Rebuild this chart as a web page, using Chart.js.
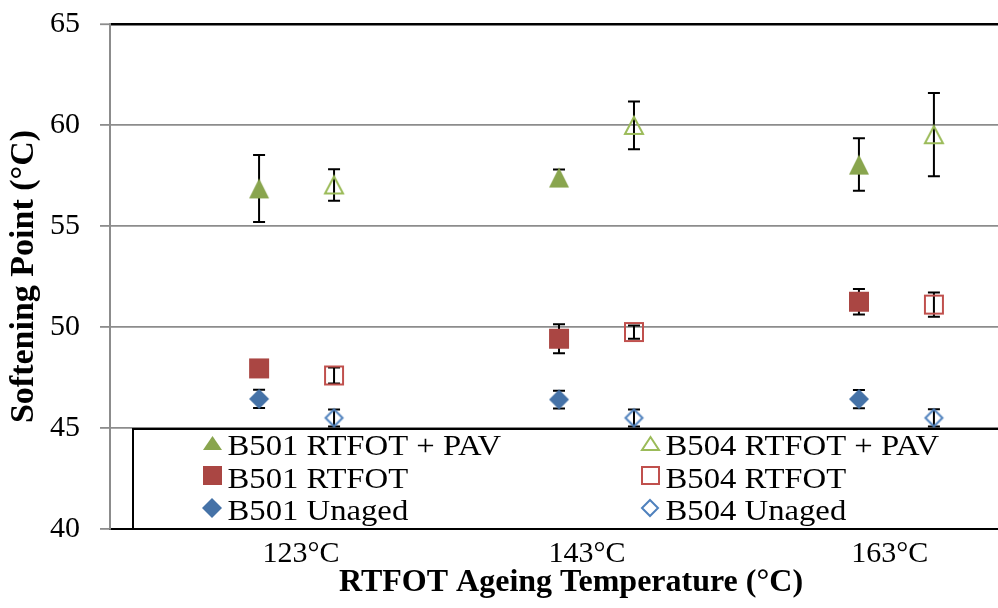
<!DOCTYPE html>
<html>
<head>
<meta charset="utf-8">
<title>Softening Point vs RTFOT Ageing Temperature</title>
<script src="https://cdn.jsdelivr.net/npm/chart.js"></script>
<style>
  html, body { margin: 0; padding: 0; background: #fff; overflow: hidden; }
  /* the figure is cropped on the right, like the original */
  #wrap { width: 998px; height: 608px; overflow: hidden; position: relative; }
  #softening-chart { position: absolute; left: 0; top: 0; }
</style>
</head>
<body>
<div id="wrap"><canvas id="softening-chart" width="1032" height="608"></canvas></div>
<script>
// Chart data
var categories = ['123°C', '143°C', '163°C'];
var yTicks = [40, 45, 50, 55, 60, 65];

var b501PavLabel = 'B501 RTFOT + PAV';
var b501Pav = [56.86, 57.4, 58.04];
var b501PavErr = [1.66, 0.4, 1.3];

var b504PavLabel = 'B504 RTFOT + PAV';
var b504Pav = [57.03, 59.98, 59.52];
var b504PavErr = [0.78, 1.18, 2.06];

var b501RtfotLabel = 'B501 RTFOT';
var b501Rtfot = [47.95, 49.42, 51.25];
var b501RtfotErr = [0.3, 0.72, 0.63];

var b504RtfotLabel = 'B504 RTFOT';
var b504Rtfot = [47.6, 49.75, 51.11];
var b504RtfotErr = [0.4, 0.33, 0.6];

var b501UnagedLabel = 'B501 Unaged';
var b501Unaged = [46.44, 46.41, 46.43];
var b501UnagedErr = [0.45, 0.44, 0.45];

var b504UnagedLabel = 'B504 Unaged';
var b504Unaged = [45.5, 45.5, 45.5];
var b504UnagedErr = [0.42, 0.42, 0.43];

var FONT = "'Liberation Serif', 'Times New Roman', serif";
Chart.defaults.font.family = FONT;
Chart.defaults.color = '#000';

// marker images (excel style), centred on their bounding box
function makeMarker(shape, fill, stroke, w, h) {
    var c = document.createElement('canvas');
    c.width = w + 4;
    c.height = h + 4;
    var g = c.getContext('2d');
    var cx = c.width / 2, cy = c.height / 2;
    if (stroke) { w -= 2; h -= 2; }
    g.beginPath();
    if (shape === 'triangle') {
        g.moveTo(cx, cy - h / 2);
        g.lineTo(cx + w / 2, cy + h / 2);
        g.lineTo(cx - w / 2, cy + h / 2);
        g.closePath();
    } else if (shape === 'square') {
        g.rect(cx - w / 2, cy - h / 2, w, h);
    } else {
        g.moveTo(cx, cy - h / 2);
        g.lineTo(cx + w / 2, cy);
        g.lineTo(cx, cy + h / 2);
        g.lineTo(cx - w / 2, cy);
        g.closePath();
    }
    if (fill) { g.fillStyle = fill; g.fill(); }
    if (stroke) { g.lineWidth = 2; g.strokeStyle = stroke; g.stroke(); }
    return c;
}

var green = '#89A54E', greenLight = '#9BBB59';
var red = '#AA4643', redLight = '#C0504D';
var blue = '#4572A7', blueLight = '#4F81BD';

var pointMarkers = [
    makeMarker('triangle', green, null, 20, 20),
    makeMarker('triangle', null, greenLight, 20, 19),
    makeMarker('square', red, null, 20, 20),
    makeMarker('square', null, redLight, 20, 20),
    makeMarker('diamond', blue, null, 20, 20),
    makeMarker('diamond', null, blueLight, 19, 19)
];
var legendMarkers = [
    makeMarker('triangle', green, null, 19, 14),
    makeMarker('triangle', null, greenLight, 19, 15),
    makeMarker('square', red, null, 19, 19),
    makeMarker('square', null, redLight, 19, 19),
    makeMarker('diamond', blue, null, 20, 20),
    makeMarker('diamond', null, blueLight, 18, 18)
];

// B501 sits left of the category centre, B504 right of it
var B501_SHIFT = -0.125, B504_SHIFT = 0.125;
// where the category labels sit on the x axis (slightly uneven in the source)
var LABEL_POS = [1.015, 1.968, 2.978];

function toPoints(values, shift) {
    return values.map(function (v, i) { return { x: i + 1 + shift, y: v }; });
}

function makeDataset(label, values, errors, shift, idx) {
    return {
        label: label,
        data: toPoints(values, shift),
        errors: errors,
        showLine: false,
        pointStyle: pointMarkers[idx],
        pointRadius: 10,
        pointHoverRadius: 10
    };
}

var chartData = {
    datasets: [
        makeDataset(b501PavLabel, b501Pav, b501PavErr, B501_SHIFT, 0),
        makeDataset(b504PavLabel, b504Pav, b504PavErr, B504_SHIFT, 1),
        makeDataset(b501RtfotLabel, b501Rtfot, b501RtfotErr, B501_SHIFT, 2),
        makeDataset(b504RtfotLabel, b504Rtfot, b504RtfotErr, B504_SHIFT, 3),
        makeDataset(b501UnagedLabel, b501Unaged, b501UnagedErr, B501_SHIFT, 4),
        makeDataset(b504UnagedLabel, b504Unaged, b504UnagedErr, B504_SHIFT, 5)
    ]
};

// error bars go under the markers
const errorBars = {
    id: 'errorBars',
    beforeDatasetsDraw(chart) {
        const ctx = chart.ctx;
        const yScale = chart.scales.y;
        chart.data.datasets.forEach((dataset, i) => {
            chart.getDatasetMeta(i).data.forEach((pt, index) => {
                const v = dataset.data[index].y;
                const e = dataset.errors[index];
                const top = yScale.getPixelForValue(v + e);
                const bottom = yScale.getPixelForValue(v - e);
                ctx.save();
                ctx.strokeStyle = '#000';
                ctx.lineWidth = 2;
                ctx.beginPath();
                ctx.moveTo(pt.x, top);
                ctx.lineTo(pt.x, bottom);
                ctx.moveTo(pt.x - 6, top);
                ctx.lineTo(pt.x + 6, top);
                ctx.moveTo(pt.x - 6, bottom);
                ctx.lineTo(pt.x + 6, bottom);
                ctx.stroke();
                ctx.restore();
            });
        });
    }
};

// boxed legend sitting inside the plot, bottom band
const boxLegend = {
    id: 'boxLegend',
    afterDraw(chart) {
        const {ctx, chartArea: {left, right, bottom}} = chart;
        const top = chart.scales.y.getPixelForValue(45) + 1;
        const bx = left + 23;
        ctx.save();
        ctx.fillStyle = '#fff';
        ctx.fillRect(bx, top, right - bx - 1, bottom - top);
        ctx.strokeStyle = '#000';
        ctx.lineWidth = 2;
        ctx.strokeRect(bx, top, right - bx - 1, bottom - top);

        ctx.font = '30px ' + FONT;
        ctx.fillStyle = '#000';
        ctx.textAlign = 'left';
        ctx.textBaseline = 'alphabetic';
        chart.data.datasets.forEach((ds, i) => {
            const row = Math.floor(i / 2), col = i % 2;
            const base = top + 26 + row * 32.5;
            const mx = left + (col ? 540 : 102);
            const img = legendMarkers[i];
            ctx.drawImage(img, Math.round(mx - img.width / 2), Math.round(base - 12 - img.height / 2));
            // source text is a little wider than the font, stretch it
            ctx.save();
            ctx.translate(mx + 15.5, base);
            ctx.scale(1.09, 1);
            ctx.fillText(ds.label, 0, 0);
            ctx.restore();
        });
        ctx.restore();
    }
};

// Chart options
var chartOptions = {
    responsive: false,
    animation: false,
    events: [],
    layout: {
        autoPadding: false,
        padding: { top: 24, left: 0, right: 0, bottom: 0 }
    },
    plugins: {
        legend: { display: false },
        tooltip: { enabled: false }
    },
    scales: {
        x: {
            type: 'linear',
            min: 0.378,
            max: 3.452,
            afterBuildTicks: function (scale) {
                scale.ticks = LABEL_POS.map(function (p) { return { value: p }; });
            },
            afterFit: function (scale) {
                scale.height = 79;
                scale.paddingLeft = 0;
                scale.paddingRight = 0;
            },
            ticks: {
                callback: function (v, i) { return categories[i]; },
                font: { size: 30 },
                color: '#000',
                padding: 7,
                autoSkip: false,
                maxRotation: 0
            },
            grid: { display: false, drawTicks: false },
            border: { color: '#000', width: 2 },
            title: {
                display: true,
                text: 'RTFOT Ageing Temperature (°C)',
                font: { size: 32, weight: 'bold' },
                color: '#000',
                padding: { top: 0, bottom: 6 }
            }
        },
        y: {
            min: yTicks[0],
            max: yTicks[yTicks.length - 1],
            afterFit: function (scale) {
                scale.width = 110;
                scale.paddingTop = 0;
                scale.paddingBottom = 0;
            },
            ticks: {
                stepSize: yTicks[1] - yTicks[0],
                font: { size: 30 },
                color: '#000',
                padding: 20
            },
            grid: {
                color: function (c) { return (c.tick.value === 65 || c.tick.value === 40) ? '#000' : '#8c8c8c'; },
                lineWidth: function (c) { return c.tick.value === 65 ? 2.5 : 1.8; },
                tickLength: 10,
                tickColor: '#8c8c8c',
                tickWidth: 1.8
            },
            border: { color: '#8c8c8c', width: 2 },
            title: {
                display: true,
                text: 'Softening Point (°C)',
                font: { size: 34, weight: 'bold' },
                color: '#000',
                padding: { top: 4, bottom: 0 }
            }
        }
    }
};

var config = {
    type: 'scatter',
    options: chartOptions,
    plugins: [errorBars, boxLegend],
    data: chartData
};

// Create the chart
var softeningChart = new Chart(document.getElementById('softening-chart'), config);
</script>
</body>
</html>
